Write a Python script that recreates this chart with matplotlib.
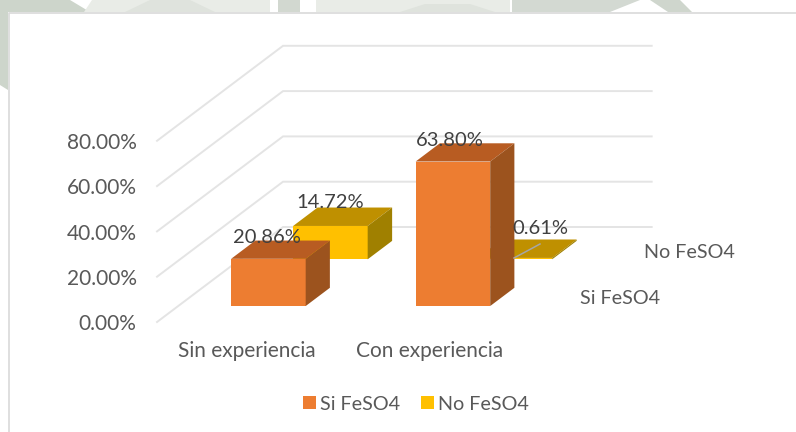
import matplotlib
matplotlib.use("Agg")
import matplotlib.pyplot as plt
from matplotlib.patches import Polygon, Patch
from matplotlib.lines import Line2D

categories = ["Sin experiencia", "Con experiencia"]
series_names = ["Si FeSO4", "No FeSO4"]
si_values = [20.86, 63.80]
no_values = [14.72, 0.61]
y_ticks = [0, 20, 40, 60, 80]
y_tick_labels = ["0.00%", "20.00%", "40.00%", "60.00%", "80.00%"]

W, H = 796, 432
plt.rcParams["font.family"] = ["Lato", "DejaVu Sans"]
fig = plt.figure(figsize=(W / 100, H / 100), dpi=100, facecolor="white")
ax = fig.add_axes([0, 0, 1, 1])
ax.axis("off")

# scale: category spacing and value spacing in pixels, with the front-floor origin
CAT_PX, VAL_PX = 184.5, 2.265
X0, Y0 = 247.25, 322
ax.set_xlim((0 - X0) / CAT_PX, (W - X0) / CAT_PX)
ax.set_ylim((Y0 - H) / VAL_PX, Y0 / VAL_PX)
DX, DY = 126 / CAT_PX, 95 / VAL_PX   # oblique depth vector per unit of depth


def proj(i, depth, v):
    return (i + depth * DX, v + depth * DY)


def px(x, y):
    return (x / W, 1 - y / H)


# backdrop watermark peeking out around the white card
backdrop = [
    ([(0, 0), (70, 0), (90, 12), (8, 12), (8, 90), (0, 85)], "#cdd5cb"),
    ([(92, 0), (270, 0), (270, 12), (84, 12)], "#e9ece7"),
    ([(125, 12), (150, 0), (190, 0), (215, 12)], "#dfe3dd"),
    ([(278, 0), (300, 0), (300, 12), (278, 12)], "#d2d8d0"),
    ([(316, 0), (510, 0), (510, 12), (316, 12)], "#e9ece7"),
    ([(400, 12), (425, 4), (470, 4), (495, 12)], "#dfe3dd"),
    ([(512, 0), (640, 0), (610, 12), (512, 12)], "#d3d9d2"),
    ([(650, 0), (680, 0), (692, 12), (668, 12)], "#cfd6cd"),
]
for pts, col in backdrop:
    ax.add_patch(Polygon([px(*p) for p in pts], closed=True, transform=ax.transAxes,
                         facecolor=col, edgecolor="none", zorder=0))
ax.add_line(Line2D(*zip(px(796, 12.5), px(8.5, 12.5), px(8.5, 432)), transform=ax.transAxes,
                   color="#d9d9d9", lw=1.2, zorder=1))

# side wall and back wall gridlines
X_LEFT, X_RIGHT = -0.489, 2.192 - DX
for v in y_ticks:
    a = proj(X_LEFT, 0, v)
    b = proj(X_LEFT, 1, v)
    c = proj(X_RIGHT, 1, v)
    ax.plot([a[0], b[0], c[0]], [a[1], b[1], c[1]], color="#e4e4e4", lw=1.4, zorder=2,
            solid_joinstyle="miter")


def bar3d(i, value, front, back, colors, z):
    w = 0.202
    face, top, side = colors
    l, r = i - w, i + w
    ax.add_patch(Polygon([proj(l, front, 0), proj(r, front, 0), proj(r, front, value), proj(l, front, value)],
                         facecolor=face, edgecolor="none", zorder=z))
    ax.add_patch(Polygon([proj(l, front, value), proj(r, front, value), proj(r, back, value), proj(l, back, value)],
                         facecolor=top, edgecolor="none", zorder=z))
    ax.add_patch(Polygon([proj(r, front, 0), proj(r, back, 0), proj(r, back, value), proj(r, front, value)],
                         facecolor=side, edgecolor="none", zorder=z))


ORANGE = ("#ed7d31", "#b85c22", "#9c531e")
YELLOW = ("#ffc000", "#bf9000", "#a08000")
for i, v in enumerate(no_values):
    bar3d(i, v, 0.66, 0.854, YELLOW, 3)
for i, v in enumerate(si_values):
    bar3d(i, v, 0.168, 0.36, ORANGE, 4)

# value axis, category axis and series axis labels
TEXT = "#595959"
FS_AXIS, FS_SERIES, FS_DATA = 15, 14.2, 14.5
for v, lab in zip(y_ticks, y_tick_labels):
    ax.text(-0.6, v - 1, lab, ha="right", va="center", color=TEXT, fontsize=FS_AXIS, zorder=6)
for i, lab in enumerate(categories):
    ax.text(i - 0.01 * i, -12.9, lab, ha="center", va="center", color=TEXT, fontsize=FS_AXIS, zorder=6)
for name, (x, y) in zip(series_names, [(620, 299), (689, 252)]):
    ax.annotate(name, xy=px(x, y), xycoords="axes fraction", ha="center", va="center",
                color=TEXT, fontsize=FS_SERIES, zorder=6)

# data labels, placed above the top face of their bars
DARK = "#404040"
label_pos = {
    (0, 0): (267, 237), (1, 0): (450, 141),
    (0, 1): (330, 203), (1, 1): (540, 229),
}
for s, vals in enumerate([si_values, no_values]):
    for i, v in enumerate(vals):
        ax.annotate(f"{v:.2f}%", xy=px(*label_pos[(i, s)]), xycoords="axes fraction",
                    ha="center", va="center", color=DARK, fontsize=FS_DATA, zorder=7)

# leader line of the small 0.61% bar
ax.add_line(Line2D(*zip(px(514, 258), px(540, 244)), transform=ax.transAxes,
                   color="#a6a6a6", lw=1.1, zorder=6))

handles = [Patch(facecolor="#ed7d31", label=series_names[0]),
           Patch(facecolor="#ffc000", label=series_names[1])]
ax.legend(handles=handles, loc="center", bbox_to_anchor=px(416, 404), ncol=2, frameon=False,
          fontsize=FS_SERIES, labelcolor=TEXT, handlelength=0.66, handleheight=0.66,
          handletextpad=0.2, columnspacing=1.1, borderpad=0)

fig.savefig("out.png", dpi=100)
